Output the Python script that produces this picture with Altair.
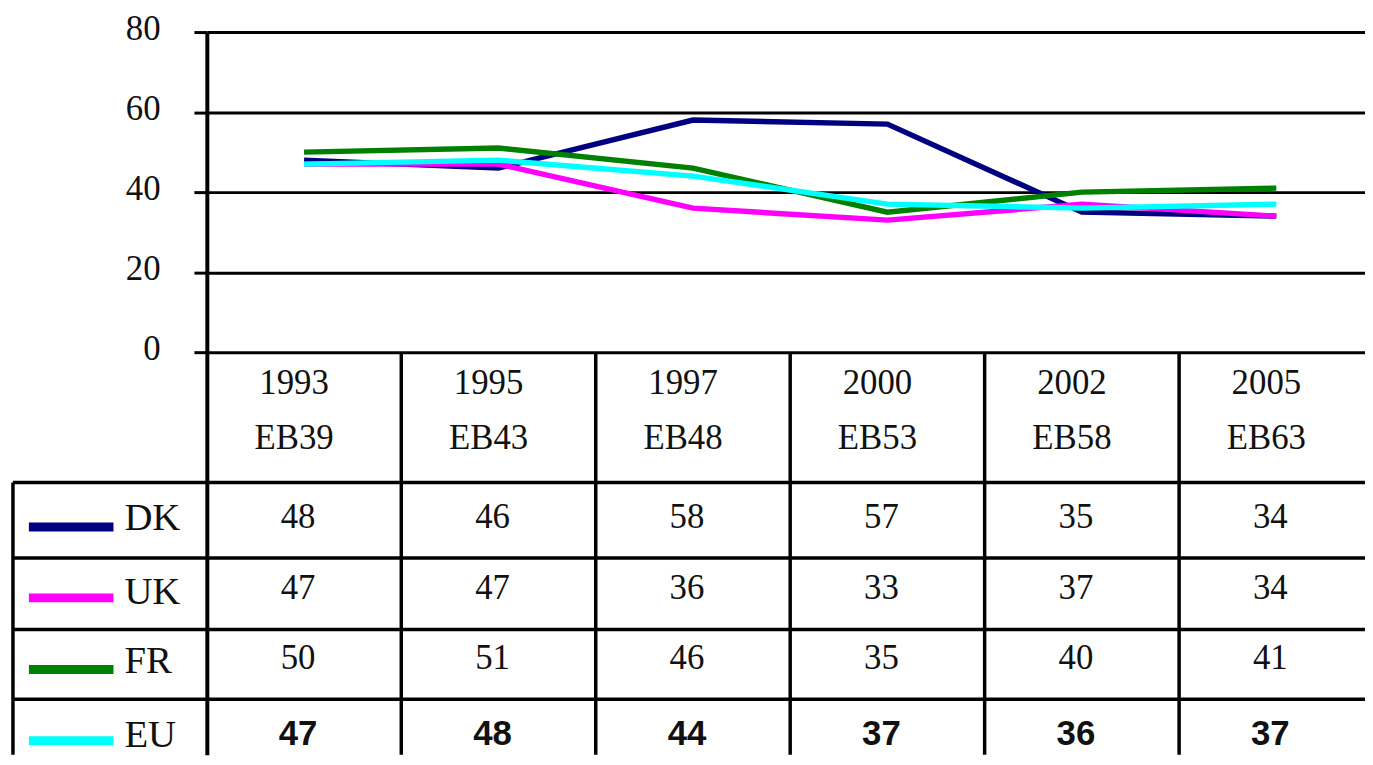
import altair as alt
import pandas as pd

# ---- data -------------------------------------------------------------
years = ["1993", "1995", "1997", "2000", "2002", "2005"]
waves = ["EB39", "EB43", "EB48", "EB53", "EB58", "EB63"]
countries = ["DK", "UK", "FR", "EU"]
dk = [48, 46, 58, 57, 35, 34]
uk = [47, 47, 36, 33, 37, 34]
fr = [50, 51, 46, 35, 40, 41]
eu = [47, 48, 44, 37, 36, 37]
colors = ["#000080", "#FF00FF", "#008000", "#00FFFF"]
y_ticks = [0, 20, 40, 60, 80]

series = {"DK": dk, "UK": uk, "FR": fr, "EU": eu}

# ---- layout (in scale units) -------------------------------------------
X_MIN, X_MAX = -0.5, 5.456          # plot area spans columns, cut at right
Y_MIN, Y_MAX = -100.62, 80          # table lives below zero
TABLE_LEFT = -1.497
HEADER_BOTTOM = -32.55
ROW_LINES = [-32.55, -51.43, -69.32, -86.71]
HEADER_Y1, HEADER_Y2 = -7.7, -21.4
NUM_Y = [-41.2, -58.9, -76.5, -95.4]
LEG_TEXT_Y = [-41.5, -59.9, -77.3, -95.7]
LEG_SWATCH_Y = [-43.7, -61.4, -79.3, -97.1]
SW_X1, SW_X2, LEG_TEXT_X = -1.415, -0.98, -0.924

rows = []
for c in countries:
    for i, (yr, v) in enumerate(zip(years, series[c])):
        rows.append({"country": c, "idx": i, "year": yr, "value": v})
df = pd.DataFrame(rows)

xs = alt.Scale(domain=[X_MIN, X_MAX], nice=False, zero=False)
ys = alt.Scale(domain=[Y_MIN, Y_MAX], nice=False, zero=False)
cscale = alt.Scale(domain=countries, range=colors)

Y_AXIS = alt.Axis(
    values=y_ticks, grid=True, gridColor="black", gridWidth=3, gridOpacity=1,
    domainColor="black", domainWidth=4, tickColor="black", tickWidth=3,
    tickSize=13, labelFont="Liberation Serif", labelFontSize=35,
    labelColor="#111111", labelPadding=34, labelOffset=-4, title=None,
)


def X(field):
    return alt.X(field, scale=xs, axis=None)


def Y(field):
    return alt.Y(field, scale=ys, axis=Y_AXIS)


# table horizontal lines
hl = pd.DataFrame({"x1": [TABLE_LEFT] * len(ROW_LINES), "x2": [X_MAX] * len(ROW_LINES), "y": ROW_LINES})
h_rules = alt.Chart(hl).mark_rule(color="black", strokeWidth=3.5).encode(
    x=X("x1:Q"), x2="x2:Q", y=Y("y:Q"),
)

# table vertical lines (column separators)
vl = pd.DataFrame({"x": [i + 0.5 for i in range(len(years) - 1)] + [TABLE_LEFT],
                   "y1": [0] * (len(years) - 1) + [HEADER_BOTTOM],
                   "y2": [Y_MIN] * len(years)})
v_rules = alt.Chart(vl).mark_rule(color="black", strokeWidth=3.5).encode(
    x=X("x:Q"), y=Y("y1:Q"), y2="y2:Q",
)

# header labels
hdr = pd.DataFrame({"idx": list(range(len(years))), "year": years, "wave": waves,
                    "y1": [HEADER_Y1] * len(years), "y2": [HEADER_Y2] * len(years)})
hdr_year = alt.Chart(hdr).mark_text(font="Liberation Serif", fontSize=35, color="#111111",
                                     dx=-10, baseline="middle").encode(
    x=X("idx:Q"), y=Y("y1:Q"), text="year:N")
hdr_wave = alt.Chart(hdr).mark_text(font="Liberation Serif", fontSize=35, color="#111111",
                                     dx=-10, baseline="middle").encode(
    x=X("idx:Q"), y=Y("y2:Q"), text="wave:N")

# numbers in table
num_rows = []
for r, c in enumerate(countries):
    for i, v in enumerate(series[c]):
        num_rows.append({"idx": i, "y": NUM_Y[r], "value": v, "country": c})
ndf = pd.DataFrame(num_rows)
nums_serif = alt.Chart(ndf).transform_filter(alt.datum.country != "EU").mark_text(
    font="Liberation Serif", fontSize=35, color="#111111", dx=-6, baseline="middle").encode(
    x=X("idx:Q"), y=Y("y:Q"), text="value:Q")
nums_eu = alt.Chart(ndf).transform_filter(alt.datum.country == "EU").mark_text(
    font="Liberation Sans", fontSize=35, fontWeight="bold", color="#111111", dx=-6,
    baseline="middle").encode(
    x=X("idx:Q"), y=Y("y:Q"), text="value:Q")

# legend column in table
leg = pd.DataFrame({"country": countries, "ty": LEG_TEXT_Y, "sy": LEG_SWATCH_Y,
                    "x1": [SW_X1] * 4, "x2": [SW_X2] * 4, "tx": [LEG_TEXT_X] * 4})
leg_sw = alt.Chart(leg).mark_rule(strokeWidth=9).encode(
    x=X("x1:Q"), x2="x2:Q", y=Y("sy:Q"),
    color=alt.Color("country:N", scale=cscale, legend=None),
)
leg_tx = alt.Chart(leg).mark_text(font="Liberation Serif", fontSize=39, color="#111111",
                                   align="left", baseline="middle").encode(
    x=X("tx:Q"), y=Y("ty:Q"), text="country:N")

# series lines, drawn in order DK, UK, FR, EU
line_layers = []
for c in countries:
    line_layers.append(
        alt.Chart(df).transform_filter(alt.datum.country == c).mark_line(strokeWidth=5.5).encode(
            x=X("idx:Q"), y=Y("value:Q"),
            color=alt.Color("country:N", scale=cscale, legend=None),
            order="idx:Q",
        )
    )

chart = alt.layer(h_rules, v_rules, hdr_year, hdr_wave, nums_serif, nums_eu,
                  leg_sw, leg_tx, *line_layers).properties(
    width=1165, height=727,
    autosize=alt.AutoSizeParams(type="none"),
    padding={"left": 200, "top": 22, "right": 0, "bottom": 0},
    background="white",
).configure_view(stroke=None)

chart.save("out.html", embed_options={"renderer": "svg", "actions": False})
